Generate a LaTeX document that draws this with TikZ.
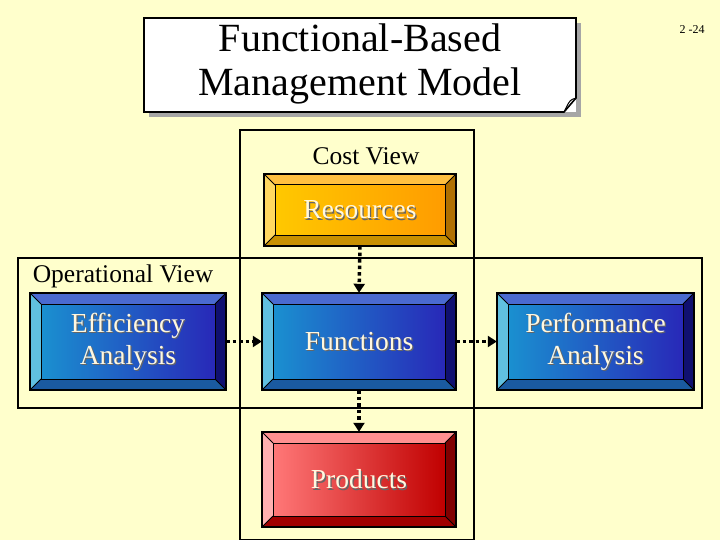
\documentclass[tikz,border=0pt]{standalone}
\usepackage{fontspec}
\setmainfont{Liberation Serif}
\usetikzlibrary{arrows.meta}
\definecolor{bg}{HTML}{FFFFCC}
\definecolor{btop}{HTML}{4A6AD0}\definecolor{bleft}{HTML}{60C0E0}\definecolor{bright}{HTML}{101070}\definecolor{bbot}{HTML}{1A5AA0}\definecolor{bin1}{HTML}{1A90D0}\definecolor{bin2}{HTML}{2828B8}
\definecolor{otop}{HTML}{FFC040}\definecolor{oleft}{HTML}{FFD860}\definecolor{oright}{HTML}{B07000}\definecolor{obot}{HTML}{C89000}\definecolor{oin1}{HTML}{FFC800}\definecolor{oin2}{HTML}{FF9C00}
\definecolor{rtop}{HTML}{FF9090}\definecolor{rleft}{HTML}{FFB0B0}\definecolor{rright}{HTML}{800000}\definecolor{rbot}{HTML}{A00000}\definecolor{rin1}{HTML}{FF7878}\definecolor{rin2}{HTML}{C00000}
\definecolor{txt}{HTML}{FFF8E0}
\tikzset{
  flow/.style={line width=3.5pt, dash pattern=on 3.5pt off 3pt, -{Triangle[length=9pt,width=11pt]}},
  frame/.style={draw=black, line width=1.6pt},
  btext/.style={text=txt, font=\fontsize{27.5}{32}\selectfont, align=center},
  lbl/.style={font=\fontsize{25.5}{28}\selectfont, text=black}
}
\newcommand\bevbox[7]{%
  \def\bv{11}%
  \fill[#6top] ({#2},{#3})--({#4},{#3})--({#4-\bv},{#3+\bv})--({#2+\bv},{#3+\bv})--cycle;
  \fill[#6bot] ({#2},{#5})--({#4},{#5})--({#4-\bv},{#5-\bv})--({#2+\bv},{#5-\bv})--cycle;
  \fill[#6left] ({#2},{#3})--({#2+\bv},{#3+\bv})--({#2+\bv},{#5-\bv})--({#2},{#5})--cycle;
  \fill[#6right] ({#4},{#3})--({#4-\bv},{#3+\bv})--({#4-\bv},{#5-\bv})--({#4},{#5})--cycle;
  \shade[left color=#6in1, right color=#6in2] ({#2+\bv},{#3+\bv}) rectangle ({#4-\bv},{#5-\bv});
  \draw[line width=1.6pt] ({#2},{#3}) rectangle ({#4},{#5});
  \draw[line width=1pt] ({#2+\bv},{#3+\bv}) rectangle ({#4-\bv},{#5-\bv});
  \draw[line width=1pt] ({#2},{#3})--({#2+\bv},{#3+\bv}) ({#4},{#3})--({#4-\bv},{#3+\bv}) ({#2},{#5})--({#2+\bv},{#5-\bv}) ({#4},{#5})--({#4-\bv},{#5-\bv});
  \node[minimum width={(#4-#2)*1pt}, minimum height={(#5-#3)*1pt}, inner sep=0pt] (#1) at ({(#2+#4)/2},{(#3+#5)/2}) {};
  \node[btext, text=black!60] at ([shift={(1.2pt,-1.2pt)}]#1.center) {#7};
  \node[btext] (#1-t) at (#1.center) {#7};
}
\begin{document}
\begin{tikzpicture}[x=1pt,y=-1pt]
\fill[bg] (0,0) rectangle (720,540);
\useasboundingbox (0,0) rectangle (720,540);
% title
\fill[gray!70] (149,23) rectangle (581,117);
\fill[white] (144,18) rectangle (576,112);
\draw[frame] (144,18)--(576,18)--(576,98)--(564,112)--(144,112)--cycle;
\draw[line width=1pt] (576,98) .. controls (570,100) .. (566,108) -- (564,112);
\node[font=\fontsize{40}{44}\selectfont, align=center] (title) at (360,64) {Functional-Based\\Management Model};
\node[font=\fontsize{12}{13}\selectfont] (pg) at (692,30) {2 -24};
% views
\draw[frame] (240,130) rectangle (474,540);
\draw[frame] (18,258) rectangle (702,408);
\node[lbl] (cv) at (366,156) {Cost View};
\node[lbl] (ov) at (123,276) {Operational View};
% boxes
\bevbox{res}{264}{174}{456}{246}{o}{Resources}
\bevbox{eff}{30}{293}{226}{390}{b}{Efficiency\\Analysis}
\bevbox{fun}{262}{293}{456}{390}{b}{Functions}
\bevbox{per}{497}{293}{694}{390}{b}{Performance\\Analysis}
\bevbox{pro}{262}{432}{456}{527}{r}{Products}
% arrows
\draw[flow] (res.south) -- (fun.north);
\draw[flow] (eff.east) -- (fun.west);
\draw[flow] (fun.east) -- (per.west);
\draw[flow] (fun.south) -- (pro.north);
\end{tikzpicture}
\end{document}
